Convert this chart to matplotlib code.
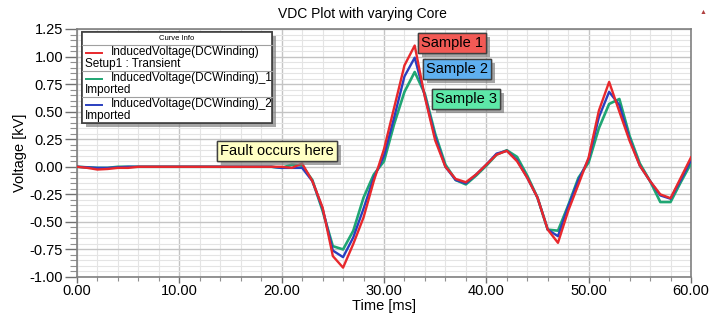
import numpy as np
import matplotlib
matplotlib.use("Agg")
import matplotlib.pyplot as plt
import matplotlib.patheffects as pe
from matplotlib.patches import Rectangle
from matplotlib.lines import Line2D
from matplotlib.ticker import MultipleLocator, FormatStrFormatter

plt.rcParams["font.family"] = ["Liberation Sans", "DejaVu Sans"]

# 時間軸 [ms]
time_ms = list(range(0, 61))

# 誘起電圧 [kV]
v_sample1 = [0, -0.01, -0.025, -0.02, -0.01, -0.01, 0, 0, 0, 0,
             0, 0, 0, 0, 0, 0, 0, 0, 0, 0,
             0, -0.01, 0.03, -0.13, -0.37, -0.81, -0.915, -0.70, -0.46, -0.13,
             0.16, 0.54, 0.92, 1.10, 0.63, 0.24, 0.0, -0.11, -0.14, -0.07,
             0.02, 0.11, 0.145, 0.05, -0.10, -0.28, -0.57, -0.69, -0.40, -0.16,
             0.085, 0.51, 0.77, 0.50, 0.235, 0.01, -0.13, -0.25, -0.285, -0.10,
             0.085]
v_sample2 = [0, -0.005, -0.01, -0.01, -0.005, 0, 0, 0, 0, 0,
             0, 0, 0, 0, 0, 0, 0, 0, 0, 0,
             -0.01, -0.01, -0.01, -0.13, -0.38, -0.76, -0.82, -0.64, -0.38, -0.10,
             0.10, 0.45, 0.82, 0.99, 0.64, 0.27, 0.0, -0.12, -0.15, -0.07,
             0.02, 0.12, 0.145, 0.06, -0.10, -0.28, -0.57, -0.63, -0.36, -0.12,
             0.07, 0.45, 0.68, 0.56, 0.25, 0.01, -0.13, -0.26, -0.29, -0.12,
             0.06]
v_sample3 = [0, -0.005, -0.01, -0.01, 0, 0, 0, 0, 0, 0,
             0, 0, 0, 0, 0, 0, 0, 0, 0, 0,
             -0.01, 0.02, 0.01, -0.12, -0.40, -0.72, -0.75, -0.58, -0.28, -0.07,
             0.05, 0.39, 0.68, 0.86, 0.66, 0.30, 0.02, -0.12, -0.16, -0.08,
             0.01, 0.11, 0.15, 0.09, -0.08, -0.28, -0.57, -0.58, -0.35, -0.10,
             0.04, 0.35, 0.57, 0.615, 0.28, 0.03, -0.13, -0.32, -0.32, -0.14,
             0.03]

legend_names = ["InducedVoltage(DCWinding)", "InducedVoltage(DCWinding)_1",
                "InducedVoltage(DCWinding)_2"]
legend_sub = ["Setup1 : Transient", "Imported", "Imported"]
sample_labels = ["Sample 1", "Sample 2", "Sample 3"]

RED, GREEN, BLUE = "#e8282c", "#1fa673", "#2a3fbf"

W, H = 710, 314
fig = plt.figure(figsize=(W / 100, H / 100), dpi=100)
ax = fig.add_axes([77 / W, 1 - 277 / H, (691 - 77) / W, (277 - 29) / H])


def px(x, y):
    # 画像ピクセル座標 -> figure座標
    return x / W, 1 - y / H


ax.plot(time_ms, v_sample3, color=GREEN, lw=1.9, zorder=3)
ax.plot(time_ms, v_sample2, color=BLUE, lw=1.7, zorder=4)
ax.plot(time_ms, v_sample1, color=RED, lw=1.7, zorder=5)

ax.set_xlim(0, 60)
ax.set_ylim(-1.0, 1.25)
ax.xaxis.set_major_locator(MultipleLocator(10))
ax.xaxis.set_minor_locator(MultipleLocator(2))
ax.yaxis.set_major_locator(MultipleLocator(0.25))
ax.yaxis.set_minor_locator(MultipleLocator(0.05))
ax.xaxis.set_major_formatter(FormatStrFormatter("%.2f"))
ax.yaxis.set_major_formatter(FormatStrFormatter("%.2f"))
ax.grid(which="major", color="#c4c4c4", lw=1.0)
ax.grid(which="minor", color="#e4e4e4", lw=0.8)
ax.set_axisbelow(True)
ax.tick_params(axis="y", which="major", length=9, width=1, color="#707070",
               labelsize=10.5, pad=1)
ax.tick_params(axis="y", which="minor", length=5, width=0.8, color="#909090")
ax.tick_params(axis="x", which="major", length=4, width=1, color="#707070",
               labelsize=10.5, pad=1)
ax.tick_params(axis="x", which="minor", length=3, width=0.8, color="#909090")
for s in ax.spines.values():
    s.set_color("#808080")
    s.set_linewidth(1.2)

ax.set_xlabel("Time [ms]", fontsize=10.5, labelpad=1)
ax.set_ylabel("Voltage [kV]", fontsize=10.5, labelpad=2)
fig.text(*px(362, 14), "VDC Plot with varying Core", fontsize=10,
         ha="center", va="center")
fig.text(*px(703, 13), "\u25b2", fontsize=5, color="#b04040",
         ha="center", va="center")

shadow = [pe.withSimplePatchShadow(offset=(3, -3), shadow_rgbFace="#808080", alpha=0.7),
          pe.Normal()]

# 凡例（Curve Info）
lx0, ly0, lx1, ly1 = 82, 32, 272, 123
box = Rectangle(px(lx0, ly1), (lx1 - lx0) / W, (ly1 - ly0) / H,
                transform=fig.transFigure, facecolor="white",
                edgecolor="#404040", lw=1.2, zorder=10)
box.set_path_effects(shadow)
fig.add_artist(box)
fig.text(*px((lx0 + lx1) / 2, 38.5), "Curve Info", fontsize=5.5,
         ha="center", va="center", zorder=11)
for yy in [45, 71, 97]:
    fig.add_artist(Line2D([lx0 / W, lx1 / W], [1 - yy / H, 1 - yy / H],
                          transform=fig.transFigure, color="#a0a0a0",
                          lw=0.8, zorder=11))
for i, c in enumerate([RED, GREEN, BLUE]):
    top = 45 + 26 * i
    fig.add_artist(Line2D([86 / W, 102 / W], [1 - (top + 8) / H] * 2,
                          transform=fig.transFigure, color=c, lw=1.4, zorder=11))
    fig.text(*px(111, top + 7.5), legend_names[i], fontsize=8.5,
             ha="left", va="center", zorder=11)
    fig.text(*px(85, top + 19), legend_sub[i], fontsize=8.5,
             ha="left", va="center", zorder=11)

# 注釈ボックス
notes = [(sample_labels[0], 421, 43, "#f25a55"),
         (sample_labels[1], 426, 69, "#5fb0f0"),
         (sample_labels[2], 435, 99, "#5de8a8"),
         ("Fault occurs here", 220, 151, "#ffffc4")]
for label, x, y, fc in notes:
    t = fig.text(*px(x, y), label, fontsize=10.5, ha="left", va="center",
                 zorder=12,
                 bbox=dict(boxstyle="square,pad=0.22", facecolor=fc,
                           edgecolor="#404040", lw=1.0))
    t.get_bbox_patch().set_path_effects(shadow)

fig.savefig("out.png", dpi=100)
